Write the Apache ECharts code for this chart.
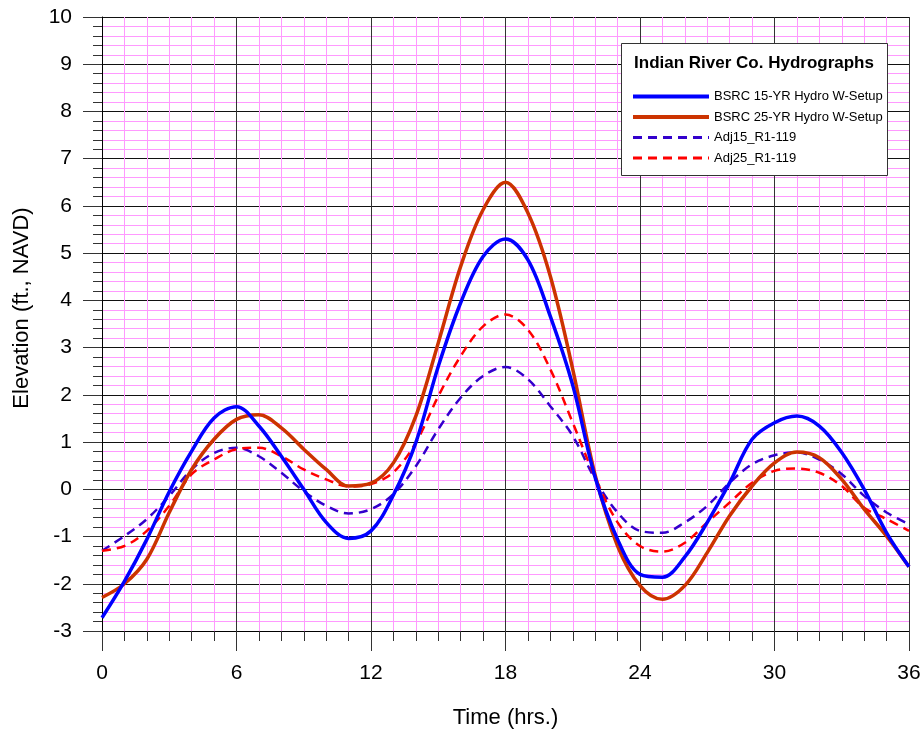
<!DOCTYPE html>
<html><head><meta charset="utf-8">
<script src="https://cdn.jsdelivr.net/npm/echarts@6/dist/echarts.min.js"></script>
<style>html,body{margin:0;padding:0;background:#fff}#c{width:924px;height:734px}</style>
</head><body><div id="c"></div>
<script>
const hours = [0,1,2,3,4,5,6,7,8,9,10,11,12,13,14,15,16,17,18,19,20,21,22,23,24,25,26,27,28,29,30,31,32,33,34,35,36];
const bsrc15 = [-2.72,-1.95,-1.06,-0.05,0.81,1.51,1.75,1.34,0.70,0.0,-0.70,-1.04,-0.88,-0.12,0.99,2.6,3.95,4.93,5.30,4.86,3.66,2.2,0.25,-1.06,-1.80,-1.86,-1.43,-0.70,0.14,1.06,1.41,1.55,1.34,0.78,0.0,-0.92,-1.64];
const bsrc25 = [-2.29,-2.0,-1.48,-0.49,0.42,1.06,1.48,1.58,1.30,0.85,0.42,0.07,0.13,0.56,1.55,3.1,4.72,5.92,6.50,5.85,4.51,2.54,0.3,-1.2,-2.04,-2.33,-2.04,-1.34,-0.56,0.07,0.56,0.79,0.67,0.21,-0.42,-0.99,-1.64];
const adj15 = [-1.30,-0.99,-0.63,-0.14,0.42,0.77,0.88,0.70,0.35,-0.04,-0.35,-0.51,-0.42,-0.1,0.49,1.27,1.94,2.40,2.59,2.33,1.76,1.13,0.21,-0.49,-0.88,-0.92,-0.70,-0.35,0.14,0.53,0.72,0.78,0.63,0.32,-0.14,-0.49,-0.74];
const adj25 = [-1.30,-1.2,-0.88,-0.35,0.32,0.63,0.85,0.88,0.70,0.42,0.21,0.06,0.11,0.36,0.99,1.97,2.82,3.45,3.70,3.38,2.54,1.41,0.25,-0.70,-1.20,-1.32,-1.13,-0.70,-0.28,0.14,0.39,0.44,0.35,0.07,-0.39,-0.63,-0.88];
const seriesNames = ['BSRC 15-YR Hydro W-Setup','BSRC 25-YR Hydro W-Setup','Adj15_R1-119','Adj25_R1-119'];
const legendTitle = 'Indian River Co. Hydrographs';
const xTitle = 'Time (hrs.)';
const yTitle = 'Elevation (ft., NAVD)';

const pair = v => hours.map((h,i)=>[h,v[i]]);
const FONT = 'Liberation Sans, Arial, sans-serif';
const chart = echarts.init(document.getElementById('c'), null, {renderer:'canvas'});
const styles = [
  {color:'#0000ff', width:3.5, type:'solid', z:5},
  {color:'#cc3300', width:3.5, type:'solid', z:4},
  {color:'#3300cc', width:2.5, type:[9,6], z:3},
  {color:'#ff0000', width:2.5, type:[9,6], z:3}
];
const dataSets = [bsrc15, bsrc25, adj15, adj25];
chart.setOption({
  animation:false,
  grid:{left:102, top:17, right:15, bottom:102},
  xAxis:{type:'value', min:0, max:36, interval:6,
    name:xTitle, nameLocation:'middle', nameGap:76,
    nameTextStyle:{fontFamily:FONT, fontSize:22, color:'#000'},
    axisLine:{show:true, onZero:false, lineStyle:{color:'#000', width:1}},
    axisTick:{show:true, length:20, lineStyle:{color:'#333'}},
    minorTick:{show:true, splitNumber:6, length:10, lineStyle:{color:'#333'}},
    axisLabel:{fontFamily:FONT, fontSize:21, color:'#000', margin:32},
    splitLine:{show:true, lineStyle:{color:'#333', width:1}},
    minorSplitLine:{show:true, lineStyle:{color:'#ff99ff', width:1}}
  },
  yAxis:{type:'value', min:-3, max:10, interval:1,
    axisLine:{show:true, onZero:false, lineStyle:{color:'#000', width:1}},
    axisTick:{show:true, length:19, lineStyle:{color:'#333'}},
    minorTick:{show:true, splitNumber:5, length:9, lineStyle:{color:'#333'}},
    axisLabel:{fontFamily:FONT, fontSize:21, color:'#000', margin:30},
    splitLine:{show:true, lineStyle:{color:'#111', width:1}},
    minorSplitLine:{show:true, lineStyle:{color:'#ff99ff', width:1}}
  },
  legend:{orient:'vertical', left:626, top:85, itemWidth:76, itemHeight:14, itemGap:7.5, z:30,
    itemStyle:{opacity:0},
    textStyle:{fontFamily:FONT, fontSize:13, color:'#000'},
    data:seriesNames.map((n,i)=>({name:n, itemStyle:{opacity:0}, lineStyle:{width: styles[i].width+0.5, color: styles[i].color, type: styles[i].type}}))
  },
  graphic:[
    {type:'rect', left:621, top:43, z:25, shape:{width:266, height:132}, style:{fill:'#fff', stroke:'#333', lineWidth:1}},
    {type:'text', x:754, y:63, z:30, style:{text:legendTitle, font:'bold 17px '+FONT, fill:'#000', textAlign:'center', textVerticalAlign:'middle'}},
    {type:'text', x:22, y:308, rotation:Math.PI/2, z:30, style:{text:yTitle, font:'22px '+FONT, fill:'#000', textAlign:'center', textVerticalAlign:'middle'}}
  ],
  series:seriesNames.map((n,i)=>({
    name:n, type:'line', data:pair(dataSets[i]), smooth:0.35, showSymbol:false, symbol:'none', z:styles[i].z,
    lineStyle:{color:styles[i].color, width:styles[i].width, type:styles[i].type}, itemStyle:{color:styles[i].color}
  }))
});
</script></body></html>
